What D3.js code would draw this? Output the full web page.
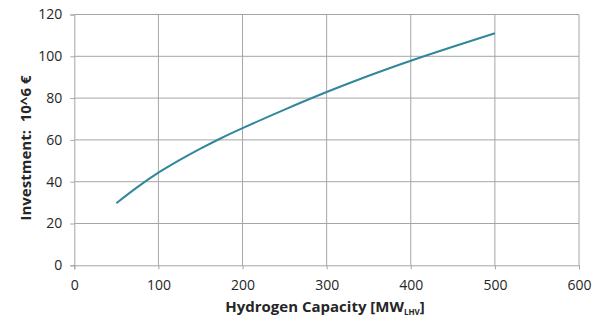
<!DOCTYPE html>
<html>
<head>
<meta charset="utf-8">
<script src="https://cdn.jsdelivr.net/npm/d3@7"></script>
<style>
    body { margin: 0; background: #fff; }
    text { font-family: "Open Sans", sans-serif; fill: #262626; }
</style>
</head>
<body>
<div id="content"></div>
<script>
// values
const capacity = [50, 75, 100, 125, 150, 175, 200, 250, 300, 350, 400, 450, 500];
const investment = [29.7, 37.4, 44.3, 50.3, 55.8, 60.9, 65.6, 74.5, 82.9, 90.7, 97.9, 104.6, 111.0];
const xTicks = [0, 100, 200, 300, 400, 500, 600];
const yTicks = [0, 20, 40, 60, 80, 100, 120];

const width = 600, height = 329;
const plotLeft = 74.3, plotRight = 579, plotTop = 14.5, plotBottom = 265.3;

var svg = d3.select("#content")
    .append("svg")
    .attr("width", width)
    .attr("height", height);

const x = d3.scaleLinear().domain([0, 600]).range([plotLeft, plotRight]);
const y = d3.scaleLinear().domain([0, 120]).range([plotBottom, plotTop]);

// gridlines
svg.append("g")
    .selectAll("line")
    .data(yTicks.slice(1))
    .enter()
    .append("line")
    .attr("x1", plotLeft).attr("x2", plotRight)
    .attr("y1", d => y(d)).attr("y2", d => y(d))
    .style("stroke", "#a6a6a6")
    .style("stroke-width", 1);

svg.append("g")
    .selectAll("line")
    .data(xTicks.slice(1))
    .enter()
    .append("line")
    .attr("y1", plotTop).attr("y2", plotBottom)
    .attr("x1", d => x(d)).attr("x2", d => x(d))
    .style("stroke", "#a6a6a6")
    .style("stroke-width", 1);

// axes
var xAxis = svg.append("g")
    .attr("transform", "translate(0," + plotBottom + ")")
    .call(d3.axisBottom(x).tickValues(xTicks).tickSize(4).tickPadding(8).tickFormat(d3.format("d")));
var yAxis = svg.append("g")
    .attr("transform", "translate(" + plotLeft + ",0)")
    .call(d3.axisLeft(y).tickValues(yTicks).tickSize(4).tickPadding(8).tickFormat(d3.format("d")));

[xAxis, yAxis].forEach(function (a) {
    a.select(".domain").style("stroke", "#a6a6a6");
    a.selectAll(".tick line").style("stroke", "#a6a6a6");
    a.selectAll(".tick text")
        .style("font-family", "'Open Sans', sans-serif")
        .style("font-size", "14px")
        .style("fill", "#262626");
});
xAxis.selectAll(".tick text").attr("dy", "0.9em");

// curve
var line = d3.line()
    .x((d, i) => x(capacity[i]))
    .y(d => y(d))
    .curve(d3.curveCatmullRom.alpha(0.5));

svg.append("path")
    .datum(investment)
    .attr("d", line)
    .style("fill", "none")
    .style("stroke", "#31879b")
    .style("stroke-width", 2);

// axis titles
var xt = svg.append("text")
    .attr("x", 325)
    .attr("y", 312)
    .attr("text-anchor", "middle")
    .style("font-size", "15px")
    .style("font-weight", "bold");
xt.append("tspan").text("Hydrogen Capacity [MW");
xt.append("tspan").attr("dy", 3).style("font-size", "8px").text("LHV");
xt.append("tspan").attr("dy", -3).text("]");

svg.append("text")
    .attr("transform", "translate(31,148) rotate(-90)")
    .attr("text-anchor", "middle")
    .style("font-size", "15px")
    .style("font-weight", "bold")
    .style("white-space", "pre")
    .text("Investment:  10^6 €");
</script>
</body>
</html>
